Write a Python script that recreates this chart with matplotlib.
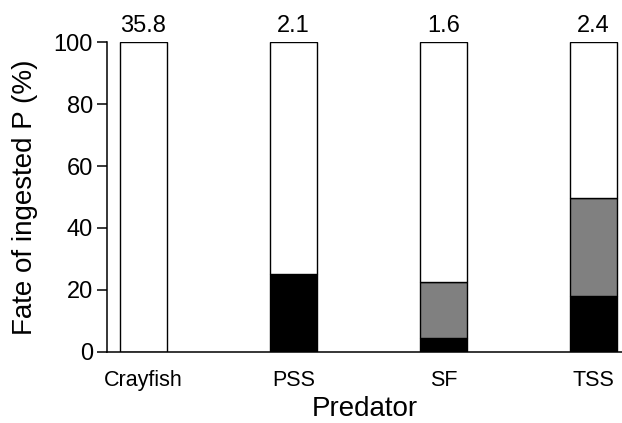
import numpy as np
import matplotlib.pyplot as plt

# data
predators = ['Crayfish', 'PSS', 'SF', 'TSS']
black_part = [0, 25, 4.3, 18.0]
gray_part = [0, 0, 18.3, 31.6]
white_part = [100 - b - g for b, g in zip(black_part, gray_part)]
top_labels = ['35.8', '2.1', '1.6', '2.4']

plt.rcParams.update({'font.family': ['Liberation Sans', 'DejaVu Sans']})

fig = plt.figure(figsize=(6.22, 4.23), dpi=100)
ax = fig.add_axes([0.172, 0.1686, 0.828, 0.7314])

x = np.arange(len(predators))
w = 0.31
kw = dict(width=w, edgecolor='black', linewidth=1.0)
ax.bar(x, black_part, color='black', **kw)
ax.bar(x, gray_part, bottom=black_part, color='#808080', **kw)
ax.bar(x, white_part, bottom=np.add(black_part, gray_part), color='white', **kw)

for xi, lab in zip(x, top_labels):
    ax.annotate(lab, (xi, 100), xytext=(0, 3.5), textcoords='offset points',
                ha='center', va='bottom', fontsize=17)

ax.set_xlim(-0.242, 3.19)
ax.set_ylim(0, 100)
ax.set_yticks([0, 20, 40, 60, 80, 100])
ax.set_xticks(x)
ax.set_xticklabels(predators, fontsize=15.5)
ax.tick_params(axis='x', length=0, pad=13)
ax.tick_params(axis='y', labelsize=17, length=7, width=1.1, pad=3)
ax.set_ylabel('Fate of ingested P (%)', fontsize=20, labelpad=11)
ax.set_xlabel('Predator', fontsize=20, labelpad=4)

for s in ['top', 'right']:
    ax.spines[s].set_visible(False)
for s in ['left', 'bottom']:
    ax.spines[s].set_linewidth(1.1)

plt.savefig('out.png', dpi=100)
